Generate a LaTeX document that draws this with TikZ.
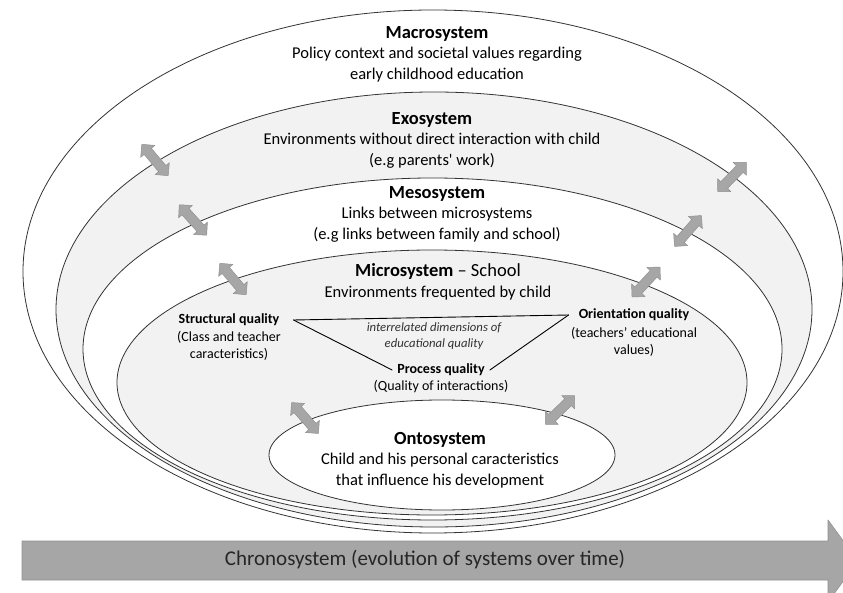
\documentclass[tikz,border=0pt]{standalone}
\usepackage{fontspec}
\setmainfont{Carlito}
\usetikzlibrary{shapes.arrows}
\definecolor{bandgray}{HTML}{F2F2F2}
\definecolor{arrowgray}{HTML}{A6A6A6}
\definecolor{arrowedge}{HTML}{919191}

\begin{document}
\begin{tikzpicture}[line cap=round,line join=round,x=1pt,y=-1pt,
  ring/.style={draw=black!80,line width=0.8pt},
  dblarrow/.style={shape=double arrow,fill=arrowgray,draw=arrowedge,line width=0.5pt,
    inner xsep=0pt,inner ysep=4.5pt,minimum height=41pt,double arrow head extend=4.5pt},
  sysbox/.style={align=center,font=\fontsize{16.5}{20.5}\selectfont},
  qlabel/.style={align=center,font=\fontsize{14}{17}\selectfont\bfseries,inner ysep=1pt},
  qtext/.style={align=center,font=\fontsize{14}{17}\selectfont,inner sep=0pt}]
\clip (0,0) rectangle (843,593);
\fill[white] (0,0) rectangle (843,593);
\draw[ring,fill=white] (433,271.5) ellipse [x radius=410,y radius=261.5];
\draw[ring,fill=bandgray] (434,309.5) ellipse [x radius=378,y radius=217.5];
\draw[ring,fill=white] (432.5,349) ellipse [x radius=349.5,y radius=171];
\draw[ring,fill=bandgray] (432,382.5) ellipse [x radius=315,y radius=132.5];
\draw[ring,fill=white] (442,455) ellipse [x radius=173,y radius=55];
\filldraw[fill=arrowgray,draw=arrowedge,line width=0.6pt] (22,541) -- (828,541) -- (828,520)
  -- (858,561) -- (828,602) -- (828,580) -- (22,580) -- cycle;

\node[sysbox] (macro) at (437,54) {{\fontsize{18.5}{22}\selectfont\bfseries Macrosystem}\\
  Policy context and societal values regarding\\early childhood education};
\node[sysbox] (exo) at (432,140) {{\fontsize{18.5}{22}\selectfont\bfseries Exosystem}\\
  Environments without direct interaction with child\\(e.g parents\textquotesingle\ work)};
\node[sysbox] (meso) at (437,214) {{\fontsize{18.5}{22}\selectfont\bfseries Mesosystem}\\
  Links between microsystems\\(e.g links between family and school)};
\node[sysbox] (micro) at (438,282) {{\fontsize{18.5}{22}\selectfont\textbf{Microsystem} -- School}\\
  Environments frequented by child};
\node[sysbox] (onto) at (440,460) {{\fontsize{18.5}{22}\selectfont\bfseries Ontosystem}\\
  Child and his personal caracteristics\\that influence his development};

\node[qlabel,inner xsep=14pt] (structural) at (229,320) {Structural quality};
\node[qtext] (structuraltext) at (229,346) {(Class and teacher\\caracteristics)};
\node[qlabel,inner xsep=10pt] (orientation) at (634,315) {Orientation quality};
\node[qtext] (orientationtext) at (634,342) {(teachers' educational\\values)};
\node[qlabel,inner xsep=5pt] (process) at (441,370) {Process quality};
\node[qtext] (processtext) at (441,387) {(Quality of interactions)};
\node[align=center,font=\fontsize{12.7}{15.5}\selectfont\itshape,text=black!80] (interrelated)
  at (434,336) {interrelated dimensions of\\educational quality};
\draw[line width=0.9pt] (structural.east) -- (orientation.west);
\draw[line width=0.9pt] (structural.east) -- (process.west);
\draw[line width=0.9pt] (process.east) -- (orientation.west);

\node[dblarrow,rotate=-50] (exoleft) at (155,160) {};
\node[dblarrow,rotate=-48] (mesoleft) at (193,220) {};
\node[dblarrow,rotate=-50] (microleft) at (233,279) {};
\node[dblarrow,rotate=46] (exoright) at (732,177) {};
\node[dblarrow,rotate=49] (mesoright) at (688,231) {};
\node[dblarrow,rotate=47] (microright) at (646,282) {};
\node[dblarrow,rotate=-49] (ontoleft) at (305,418) {};
\node[dblarrow,rotate=44] (ontoright) at (560,410) {};

\node[font=\fontsize{21}{25}\selectfont,text=black!85] (chrono) at (425,560)
  {Chronosystem (evolution of systems over time)};
\end{tikzpicture}
\end{document}
